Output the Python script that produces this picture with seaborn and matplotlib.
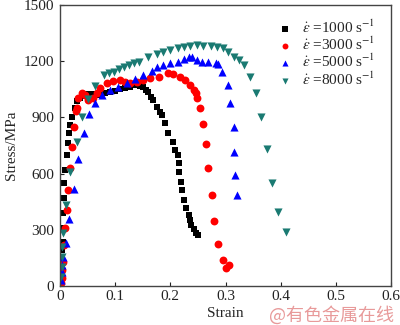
import matplotlib
matplotlib.use("Agg")
import matplotlib.pyplot as plt
import seaborn as sns
import pandas as pd

# Dynamic compression stress-strain curves at four strain rates
strain_1000 = [0.002, 0.003, 0.004, 0.005, 0.005, 0.006, 0.007, 0.008, 0.009, 0.012,
               0.014, 0.016, 0.018, 0.022, 0.027, 0.031, 0.036, 0.041, 0.045, 0.050,
               0.055, 0.064, 0.073, 0.082, 0.091, 0.100, 0.109, 0.118, 0.127, 0.135,
               0.140, 0.145, 0.151, 0.156, 0.160, 0.165, 0.169, 0.176, 0.182, 0.185,
               0.191, 0.196, 0.204, 0.209, 0.213, 0.215, 0.216, 0.220, 0.222, 0.225,
               0.229, 0.233, 0.235, 0.238, 0.242, 0.247, 0.251]
stress_1000 = [43, 123, 192, 235, 310, 390, 470, 550, 620, 700,
               763, 817, 860, 900, 950, 988, 1003, 1015, 1020, 1022,
               1025, 1022, 1020, 1028, 1035, 1043, 1050, 1057, 1062, 1070,
               1073, 1068, 1062, 1046, 1035, 1009, 993, 955, 930, 913,
               870, 817, 769, 726, 700, 657, 608, 555, 512, 459,
               416, 379, 352, 325, 304, 283, 272]

strain_3000 = [0.002, 0.003, 0.004, 0.005, 0.007, 0.009, 0.012, 0.015, 0.018, 0.022,
               0.026, 0.029, 0.031, 0.033, 0.040, 0.045, 0.051, 0.060, 0.067, 0.073,
               0.085, 0.096, 0.109, 0.118, 0.127, 0.140, 0.151, 0.164, 0.180, 0.196,
               0.205, 0.218, 0.227, 0.236, 0.242, 0.247, 0.249, 0.253, 0.260, 0.264,
               0.269, 0.275, 0.280, 0.287, 0.295, 0.300, 0.307]
stress_3000 = [16, 43, 85, 128, 219, 310, 406, 512, 630, 742,
               849, 934, 950, 1003, 1030, 1020, 993, 1003, 1030, 1057,
               1084, 1094, 1100, 1089, 1084, 1089, 1100, 1110, 1116, 1137,
               1132, 1116, 1100, 1073, 1046, 1030, 1003, 950, 865, 758,
               630, 486, 347, 224, 139, 96, 112]

strain_5000 = [0.002, 0.003, 0.004, 0.006, 0.011, 0.016, 0.025, 0.033, 0.044, 0.053,
               0.064, 0.076, 0.091, 0.105, 0.122, 0.136, 0.151, 0.167, 0.176, 0.187,
               0.200, 0.213, 0.224, 0.233, 0.240, 0.249, 0.258, 0.269, 0.282, 0.287,
               0.293, 0.304, 0.309, 0.315, 0.316, 0.318, 0.320]
stress_5000 = [32, 75, 112, 155, 230, 358, 518, 678, 817, 918,
               977, 1020, 1046, 1062, 1084, 1105, 1126, 1148, 1169, 1180,
               1190, 1196, 1212, 1222, 1222, 1206, 1196, 1196, 1190, 1185,
               1142, 1073, 977, 849, 715, 593, 486]

strain_8000 = [0.002, 0.003, 0.004, 0.004, 0.005, 0.011, 0.018, 0.031, 0.040, 0.051,
               0.064, 0.080, 0.089, 0.098, 0.107, 0.116, 0.125, 0.135, 0.144, 0.160,
               0.176, 0.187, 0.200, 0.213, 0.224, 0.236, 0.249, 0.260, 0.273, 0.285,
               0.295, 0.305, 0.315, 0.324, 0.333, 0.344, 0.355, 0.365, 0.375, 0.385,
               0.396, 0.409]
stress_8000 = [48, 101, 155, 208, 283, 432, 608, 769, 902, 998,
               1068, 1126, 1137, 1142, 1158, 1169, 1180, 1190, 1196, 1222,
               1238, 1249, 1260, 1270, 1276, 1281, 1286, 1281, 1281, 1276,
               1270, 1249, 1222, 1206, 1180, 1116, 1030, 902, 731, 550,
               395, 288]

rate_labels = [r"$\dot{\varepsilon}$ =1000 s$^{-1}$",
               r"$\dot{\varepsilon}$ =3000 s$^{-1}$",
               r"$\dot{\varepsilon}$ =5000 s$^{-1}$",
               r"$\dot{\varepsilon}$ =8000 s$^{-1}$"]
x_ticks = [0, 0.1, 0.2, 0.3, 0.4, 0.5, 0.6]
x_tick_labels = ["0", "0.1", "0.2", "0.3", "0.4", "0.5", "0.6"]
y_ticks = [0, 300, 600, 900, 1200, 1500]

series = [
    (strain_1000, stress_1000, rate_labels[0], "#000000", "s", 24),
    (strain_3000, stress_3000, rate_labels[1], "#ff0000", "o", 32),
    (strain_5000, stress_5000, rate_labels[2], "#0000ff", "^", 34),
    (strain_8000, stress_8000, rate_labels[3], "#1a7a72", "v", 34),
]

sns.set_theme(style="white")
plt.rcParams["font.family"] = ["Liberation Serif", "DejaVu Serif"]
plt.rcParams["mathtext.fontset"] = "stix"

fig = plt.figure(figsize=(4.0, 3.25), dpi=100)
ax = fig.add_axes([0.15, 0.12, 0.8275, 0.865])

for xs, ys, lab, col, mk, size in series:
    df = pd.DataFrame({"Strain": xs, "Stress": ys})
    sns.scatterplot(data=df, x="Strain", y="Stress", ax=ax, color=col, marker=mk,
                    s=size, linewidth=0, label=lab)

ax.set_xlim(0, 0.6)
ax.set_ylim(0, 1500)
ax.set_xticks(x_ticks)
ax.set_xticklabels(x_tick_labels)
ax.set_yticks(y_ticks)
ax.tick_params(direction="in", length=3, width=0.8, labelsize=11, colors="#222222",
               pad=4, bottom=True, left=True)
ax.tick_params(axis="x", pad=3)
for sp in ax.spines.values():
    sp.set_color("#444444")
    sp.set_linewidth(1.0)

ax.set_xlabel("Strain", fontsize=11, labelpad=3)
ax.set_ylabel("Stress/MPa", fontsize=11, labelpad=4)

leg = ax.legend(loc="upper right", frameon=False, fontsize=11, handletextpad=0.1,
                labelspacing=0.0, borderaxespad=0.3, markerscale=0.75,
                bbox_to_anchor=(0.985, 0.99))

fig.text(0.985, 0.03, "@有色金属在线", ha="right", va="center", fontsize=13,
         color="#e89a9a", family=["Noto Sans CJK SC", "DejaVu Sans"])

fig.savefig("out.png", dpi=100)
